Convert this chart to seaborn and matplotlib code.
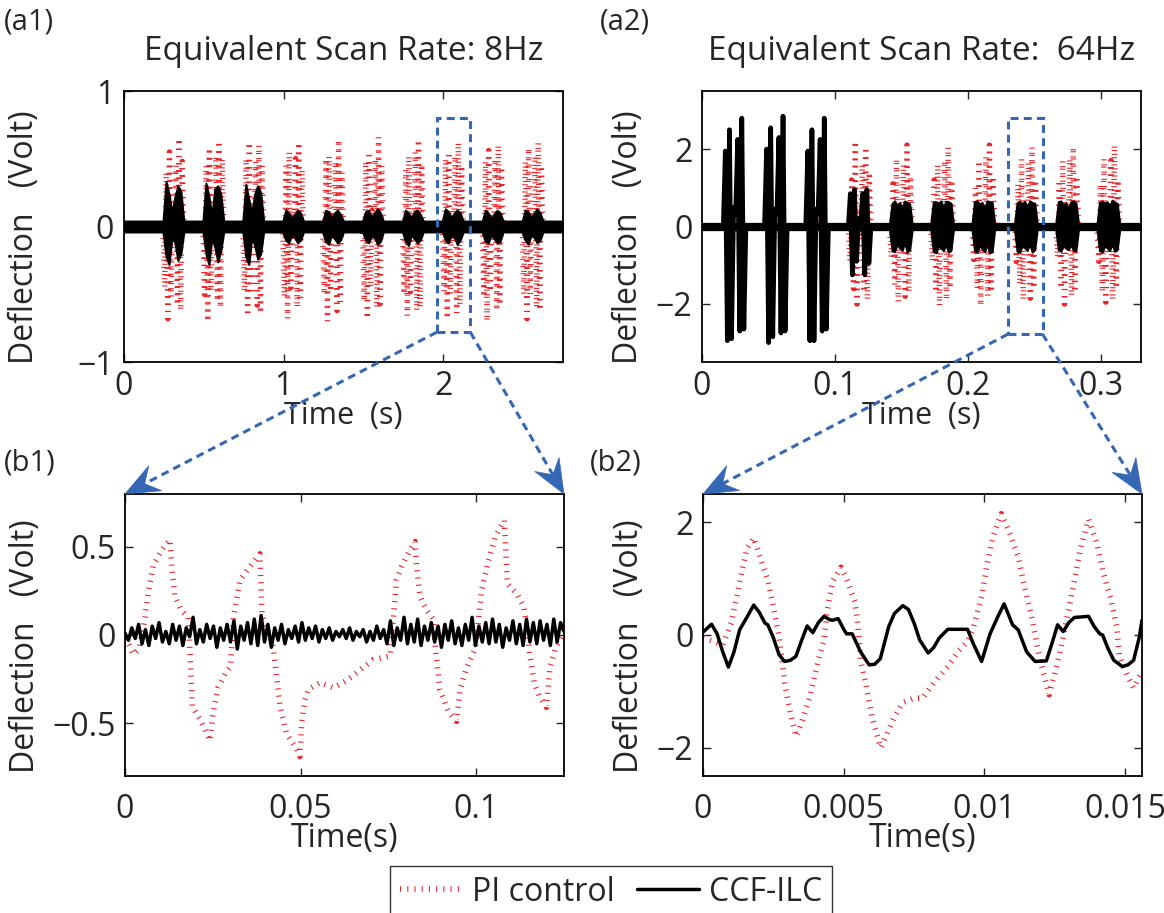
import numpy as np
import matplotlib
matplotlib.use('Agg')
import matplotlib.pyplot as plt
import seaborn as sns
from matplotlib.patches import Rectangle, Polygon
from matplotlib.lines import Line2D
from matplotlib.ticker import FuncFormatter

# ---------------- data ----------------
# (a1) 8 Hz: burst start times (s), burst length
a1_starts = [0.245, 0.495, 0.745, 0.995, 1.245, 1.495, 1.745, 1.995, 2.245, 2.495]
a1_dur = 0.13
# PI control: alternating extremes inside each burst
a1_pi = [
    [0.0, -0.45, 0.40, -0.68, 0.55, -0.52, 0.10, -0.08, 0.45, -0.58, 0.65, -0.62, 0.48, 0.0],
    [0.0, -0.50, 0.45, -0.70, 0.58, -0.48, 0.12, -0.10, 0.52, -0.55, 0.63, -0.60, 0.50, 0.0],
    [0.0, -0.48, 0.50, -0.66, 0.62, -0.50, 0.10, -0.12, 0.48, -0.58, 0.60, -0.64, 0.45, 0.0],
    [0.0, -0.52, 0.45, -0.68, 0.55, -0.45, 0.12, -0.10, 0.50, -0.60, 0.62, -0.55, 0.42, 0.0],
    [0.0, -0.50, 0.50, -0.70, 0.52, -0.48, 0.08, -0.10, 0.48, -0.62, 0.64, -0.58, 0.40, 0.0],
    [0.0, -0.55, 0.48, -0.68, 0.55, -0.45, 0.12, -0.08, 0.50, -0.60, 0.66, -0.57, 0.45, 0.0],
    [0.0, -0.50, 0.42, -0.66, 0.52, -0.48, 0.10, -0.10, 0.55, -0.62, 0.64, -0.60, 0.46, 0.0],
    [0.0, -0.48, 0.50, -0.68, 0.55, -0.50, 0.12, -0.12, 0.52, -0.64, 0.62, -0.58, 0.45, 0.0],
    [0.0, -0.52, 0.48, -0.70, 0.56, -0.48, 0.10, -0.10, 0.50, -0.62, 0.60, -0.58, 0.44, 0.0],
    [0.0, -0.50, 0.48, -0.68, 0.58, -0.50, 0.12, -0.10, 0.52, -0.60, 0.62, -0.62, 0.45, 0.0],
]
# CCF-ILC: upper / lower envelope of the dense trace in each burst
a1_ilc_hi = [
    [0.04, 0.33, 0.24, 0.10, 0.22, 0.30, 0.26, 0.04],
    [0.04, 0.32, 0.22, 0.08, 0.28, 0.30, 0.24, 0.04],
    [0.04, 0.31, 0.20, 0.10, 0.24, 0.30, 0.25, 0.04],
    [0.04, 0.12, 0.10, 0.06, 0.09, 0.12, 0.10, 0.04],
    [0.04, 0.12, 0.11, 0.06, 0.10, 0.12, 0.09, 0.04],
    [0.04, 0.11, 0.12, 0.07, 0.10, 0.13, 0.10, 0.04],
    [0.04, 0.12, 0.10, 0.06, 0.11, 0.12, 0.09, 0.04],
    [0.04, 0.13, 0.11, 0.06, 0.10, 0.12, 0.10, 0.04],
    [0.04, 0.12, 0.10, 0.06, 0.09, 0.12, 0.10, 0.04],
    [0.04, 0.12, 0.11, 0.06, 0.10, 0.13, 0.10, 0.04],
]
a1_ilc_lo = [
    [-0.04, -0.22, -0.28, -0.08, -0.12, -0.25, -0.20, -0.04],
    [-0.04, -0.20, -0.28, -0.08, -0.15, -0.26, -0.18, -0.04],
    [-0.04, -0.22, -0.28, -0.08, -0.14, -0.24, -0.20, -0.04],
    [-0.04, -0.10, -0.12, -0.06, -0.08, -0.12, -0.10, -0.04],
    [-0.04, -0.11, -0.13, -0.06, -0.09, -0.12, -0.10, -0.04],
    [-0.04, -0.10, -0.12, -0.07, -0.08, -0.13, -0.11, -0.04],
    [-0.04, -0.11, -0.14, -0.06, -0.09, -0.12, -0.10, -0.04],
    [-0.04, -0.10, -0.12, -0.06, -0.08, -0.13, -0.10, -0.04],
    [-0.04, -0.11, -0.12, -0.06, -0.09, -0.12, -0.11, -0.04],
    [-0.04, -0.10, -0.13, -0.06, -0.08, -0.12, -0.10, -0.04],
]
a1_box = [1.96, 2.17, -0.78, 0.80]

# (a2) 64 Hz
a2_starts = [0.016, 0.047, 0.078, 0.110, 0.141, 0.172, 0.203, 0.235, 0.266, 0.297]
a2_dur = 0.017
a2_pi = [
    [0.0, 0.30, -0.40, 0.40, -0.30, 0.0],
    [0.0, 0.30, -0.40, 0.40, -0.30, 0.0],
    [0.0, 0.30, -0.40, 0.40, -0.30, 0.0],
    [0.0, -0.90, 1.20, -1.60, 2.20, -2.00, 0.40, -0.30, 1.60, -1.70, 2.05, -1.90, 1.40, 0.0],
    [0.0, -0.80, 1.10, -1.50, 1.75, -1.95, 0.40, -0.40, 1.60, -1.80, 2.10, -1.70, 1.30, 0.0],
    [0.0, -0.90, 1.20, -1.70, 1.60, -2.05, 0.30, -0.30, 1.70, -1.90, 2.05, -1.60, 1.20, 0.0],
    [0.0, -0.85, 1.00, -1.60, 1.70, -2.05, 0.40, -0.40, 1.80, -1.80, 2.10, -1.70, 1.30, 0.0],
    [0.0, -0.90, 1.10, -1.50, 1.75, -1.90, 0.30, -0.30, 1.65, -1.85, 2.05, -1.60, 1.20, 0.0],
    [0.0, -0.80, 1.20, -1.60, 1.70, -2.00, 0.40, -0.40, 1.75, -1.80, 2.05, -1.70, 1.30, 0.0],
    [0.0, -0.90, 1.10, -1.70, 1.75, -1.95, 0.30, -0.30, 1.70, -1.90, 2.10, -1.60, 1.20, 0.0],
]
# CCF-ILC spikes in the first four bursts
a2_ilc_spikes = [
    [0.0, 1.95, -2.95, 2.50, -2.90, 0.50, 0.30, 2.25, -2.70, 2.80, -2.65, 0.0],
    [0.0, 2.00, -3.00, 2.55, -2.85, 0.45, 0.30, 2.30, -2.75, 2.85, -2.70, 0.0],
    [0.0, 1.95, -2.95, 2.50, -2.95, 0.45, 0.35, 2.25, -2.70, 2.80, -2.65, 0.0],
    [0.0, 0.85, -1.25, 0.95, -0.90, 0.20, 0.10, 0.85, -1.25, 0.95, -0.95, 0.0],
]
# CCF-ILC envelope of the later bursts (5..10)
a2_ilc_hi = [
    [0.08, 0.60, 0.66, 0.55, 0.62, 0.48, 0.66, 0.62, 0.58, 0.08],
    [0.08, 0.62, 0.64, 0.60, 0.66, 0.50, 0.65, 0.64, 0.60, 0.08],
    [0.08, 0.64, 0.66, 0.58, 0.62, 0.48, 0.66, 0.64, 0.62, 0.08],
    [0.08, 0.62, 0.65, 0.58, 0.65, 0.50, 0.66, 0.62, 0.60, 0.08],
    [0.08, 0.64, 0.66, 0.55, 0.62, 0.46, 0.64, 0.66, 0.60, 0.08],
    [0.08, 0.63, 0.65, 0.60, 0.64, 0.50, 0.68, 0.62, 0.60, 0.08],
]
a2_ilc_lo = [
    [-0.08, -0.62, -0.65, -0.45, -0.55, -0.62, -0.40, -0.66, -0.60, -0.08],
    [-0.08, -0.64, -0.68, -0.50, -0.55, -0.62, -0.45, -0.66, -0.62, -0.08],
    [-0.08, -0.62, -0.66, -0.48, -0.58, -0.65, -0.45, -0.68, -0.64, -0.08],
    [-0.08, -0.64, -0.66, -0.50, -0.55, -0.62, -0.42, -0.66, -0.60, -0.08],
    [-0.08, -0.60, -0.64, -0.48, -0.56, -0.60, -0.45, -0.62, -0.62, -0.08],
    [-0.08, -0.62, -0.66, -0.50, -0.55, -0.62, -0.44, -0.64, -0.60, -0.08],
]
a2_box = [0.230, 0.256, -2.78, 2.80]

# (b1) zoom of (a1)
b1_pi_t = [0.0, 0.0012, 0.0024, 0.0040, 0.0050, 0.0057, 0.0066, 0.0080, 0.0104, 0.0128,
           0.0133, 0.0142, 0.0160, 0.0180, 0.0185, 0.0192, 0.0214, 0.0242, 0.0250, 0.0265,
           0.0285, 0.0300, 0.0309, 0.0327, 0.0356, 0.0384, 0.0390, 0.0400, 0.0422, 0.0442,
           0.0460, 0.0489, 0.0498, 0.0503, 0.0512, 0.0522, 0.0555, 0.0593, 0.0630, 0.0669,
           0.0707, 0.0755, 0.0764, 0.0773, 0.0788, 0.0811, 0.0826, 0.0830, 0.0840, 0.0859,
           0.0878, 0.0885, 0.0897, 0.0920, 0.0944, 0.0954, 0.0974, 0.0997, 0.1005, 0.1015,
           0.1035, 0.1055, 0.1080, 0.1089, 0.1117, 0.1136, 0.1146, 0.1152, 0.1165, 0.1180,
           0.1200, 0.1210, 0.1225, 0.1250]
b1_pi_v = [-0.02, -0.06, -0.11, -0.08, 0.02, 0.10, 0.24, 0.39, 0.48, 0.54,
           0.39, 0.22, 0.14, 0.10, -0.10, -0.41, -0.48, -0.60, -0.45, -0.30,
           -0.22, -0.18, 0.10, 0.31, 0.39, 0.46, 0.12, 0.06, -0.07, -0.41,
           -0.56, -0.65, -0.69, -0.50, -0.37, -0.31, -0.27, -0.30, -0.26, -0.20,
           -0.14, -0.12, 0.09, 0.31, 0.39, 0.48, 0.53, 0.39, 0.22, 0.14,
           0.09, -0.10, -0.31, -0.43, -0.49, -0.31, -0.18, -0.08, 0.05, 0.25,
           0.42, 0.56, 0.65, 0.29, 0.23, 0.16, 0.03, -0.10, -0.27, -0.35,
           -0.41, -0.18, -0.08, 0.02]
b1_ilc_v = [0.01, -0.03, 0.04, -0.02, 0.06, -0.05, 0.03, -0.06, 0.05, -0.02,
            0.07, -0.04, 0.02, -0.05, 0.06, -0.03, 0.05, -0.06, 0.04, -0.01,
            0.10, -0.05, 0.03, -0.04, 0.06, -0.02, 0.05, -0.07, 0.04, -0.03,
            0.06, -0.04, 0.08, -0.08, 0.05, -0.03, 0.07, -0.05, 0.09, -0.06,
            0.11, -0.04, 0.06, -0.07, 0.04, -0.03, 0.06, -0.05, 0.03, -0.02,
            0.05, -0.04, 0.07, -0.03, 0.04, -0.02, 0.05, -0.04, 0.03, -0.02,
            0.04, -0.03, 0.02, -0.01, 0.03, -0.02, 0.04, -0.03, 0.02, -0.01,
            0.03, -0.04, 0.02, -0.03, 0.05, -0.02, 0.03, -0.05, 0.08, -0.06,
            0.04, -0.03, 0.10, -0.05, 0.06, -0.04, 0.09, -0.06, 0.05, -0.03,
            0.07, -0.04, 0.05, -0.07, 0.06, -0.03, 0.08, -0.05, 0.04, -0.06,
            0.06, -0.03, 0.10, -0.06, 0.05, -0.04, 0.07, -0.05, 0.09, -0.04,
            0.06, -0.07, 0.04, -0.03, 0.08, -0.05, 0.06, -0.06, 0.09, -0.04,
            0.07, -0.05, 0.08, -0.03, 0.06, -0.06, 0.09, -0.04, 0.07, 0.02]

# (b2) zoom of (a2)
b2_pi_t = [0.0, 0.0004, 0.0007, 0.0010, 0.0012, 0.0014, 0.00156, 0.0018, 0.0020, 0.0023,
           0.0025, 0.0027, 0.0028, 0.0029, 0.0031, 0.0033, 0.0035, 0.0038, 0.0041, 0.0043,
           0.0044, 0.0046, 0.0049, 0.0051, 0.0054, 0.0055, 0.0056, 0.0058, 0.0060, 0.0062,
           0.0063, 0.0065, 0.0068, 0.0071, 0.0075, 0.0078, 0.0082, 0.0087, 0.0091, 0.0094,
           0.0096, 0.0099, 0.0101, 0.0103, 0.0106, 0.0109, 0.0112, 0.0114, 0.0117, 0.0119,
           0.0121, 0.0123, 0.0125, 0.0127, 0.0129, 0.0132, 0.0134, 0.0137, 0.0140, 0.0142,
           0.0145, 0.0147, 0.0148, 0.0151, 0.0153, 0.0156]
b2_pi_v = [-0.05, -0.12, -0.18, 0.21, 0.68, 1.18, 1.53, 1.72, 1.42, 0.97,
           0.50, -0.03, -0.44, -0.85, -1.38, -1.80, -1.56, -1.09, -0.44, -0.09,
           0.40, 0.95, 1.20, 1.00, 0.59, 0.18, -0.44, -0.91, -1.45, -1.80,
           -2.00, -1.80, -1.45, -1.20, -1.12, -1.12, -0.85, -0.56, -0.27, -0.12,
           0.12, 0.68, 1.27, 1.74, 2.15, 1.80, 1.39, 0.91, 0.27, -0.27,
           -0.68, -1.06, -0.68, -0.27, 0.21, 0.97, 1.50, 2.05, 1.62, 1.15,
           0.62, 0.15, -0.38, -0.74, -0.94, -0.65]
b2_ilc_t = [0.0, 0.0003, 0.0005, 0.0007, 0.0009, 0.0011, 0.0013, 0.0016, 0.0018, 0.0020,
            0.0022, 0.0023, 0.0025, 0.0027, 0.0029, 0.0031, 0.0033, 0.0035, 0.0037, 0.0039,
            0.0041, 0.0043, 0.0045, 0.0046, 0.0048, 0.0050, 0.0051, 0.0053, 0.0056, 0.0059,
            0.0061, 0.0063, 0.0066, 0.0068, 0.0071, 0.0073, 0.0075, 0.0077, 0.0080, 0.0082,
            0.0084, 0.0087, 0.0090, 0.0094, 0.0096, 0.0099, 0.0102, 0.0105, 0.0107, 0.0110,
            0.0112, 0.0115, 0.0118, 0.0122, 0.0124, 0.0126, 0.0128, 0.0130, 0.0132, 0.0137,
            0.0139, 0.0141, 0.0142, 0.0144, 0.0146, 0.0149, 0.0151, 0.0153, 0.0155, 0.0156]
b2_ilc_v = [0.05, 0.19, 0.02, -0.30, -0.57, -0.30, 0.09, 0.35, 0.53, 0.40,
            0.21, 0.18, -0.05, -0.35, -0.47, -0.45, -0.38, -0.10, 0.16, 0.04,
            0.22, 0.33, 0.27, 0.26, 0.29, 0.10, 0.02, 0.02, -0.30, -0.53,
            -0.52, -0.42, 0.15, 0.38, 0.52, 0.45, 0.21, -0.09, -0.32, -0.22,
            -0.05, 0.10, 0.10, 0.10, -0.15, -0.47, 0.02, 0.35, 0.55, 0.18,
            0.09, -0.30, -0.47, -0.46, -0.15, 0.18, 0.06, 0.22, 0.31, 0.33,
            0.15, 0.02, 0.00, -0.25, -0.45, -0.56, -0.53, -0.45, -0.05, 0.26]

# ---------------- helpers ----------------
def stack_bursts(starts, dur, bursts, xmax):
    t, v = [0.0], [0.0]
    for s, vals in zip(starts, bursts):
        t.extend(np.linspace(s, s + dur, len(vals)))
        v.extend(vals)
    t.append(xmax)
    v.append(0.0)
    return np.array(t), np.array(v)


def stack_envelope(starts, dur, his, los, base, xmax):
    t, hi, lo = [0.0], [base], [-base]
    for s, h, l in zip(starts, his, los):
        t.extend(np.linspace(s, s + dur, len(h)))
        hi.extend(h)
        lo.extend(l)
    t.append(xmax)
    hi.append(base)
    lo.append(-base)
    return np.array(t), np.array(hi), np.array(lo)


def fmt(x, pos):
    return ('%g' % x).replace('-', '\u2212')


# ---------------- style ----------------
sns.set_style('ticks')
plt.rcParams['font.family'] = ['Open Sans', 'DejaVu Sans']
plt.rcParams['axes.linewidth'] = 1.3

RED = '#e8262a'
BLUE = '#3467b4'
FS = 23
pi_kw = dict(color=RED, lw=4.0, linestyle=(0, (0.2, 1.1)))
ilc_kw = dict(color='black', lw=2.5)

fig = plt.figure(figsize=(11.64, 9.13), dpi=100)
ax_a1 = fig.add_axes([0.1065, 0.6035, 0.3771, 0.2968])
ax_a2 = fig.add_axes([0.6031, 0.6035, 0.3771, 0.2968])
ax_b1 = fig.add_axes([0.1074, 0.1501, 0.3771, 0.3089])
ax_b2 = fig.add_axes([0.6040, 0.1501, 0.3771, 0.3089])

# (a1)
t, v = stack_bursts(a1_starts, a1_dur, a1_pi, 2.75)
sns.lineplot(x=t, y=v, ax=ax_a1, sort=False, estimator=None, **pi_kw)
t, hi, lo = stack_envelope(a1_starts, a1_dur, a1_ilc_hi, a1_ilc_lo, 0.04, 2.75)
ax_a1.fill_between(t, lo, hi, color='black', lw=1.5, zorder=3)

# (a2)
t, v = stack_bursts(a2_starts, a2_dur, a2_pi, 0.33)
sns.lineplot(x=t, y=v, ax=ax_a2, sort=False, estimator=None, **pi_kw)
t, hi, lo = stack_envelope(a2_starts[4:], a2_dur, a2_ilc_hi, a2_ilc_lo, 0.08, 0.33)
ax_a2.fill_between(t, lo, hi, color='black', lw=1.5, zorder=3)
t, v = stack_bursts(a2_starts[:4], a2_dur, a2_ilc_spikes, 0.33)
sns.lineplot(x=t, y=v, ax=ax_a2, sort=False, estimator=None, color='black', lw=3.4, zorder=4)

# (b1)
sns.lineplot(x=b1_pi_t, y=b1_pi_v, ax=ax_b1, sort=False, estimator=None, **pi_kw)
b1_ilc_t = np.linspace(0, 0.125, len(b1_ilc_v))
sns.lineplot(x=b1_ilc_t, y=b1_ilc_v, ax=ax_b1, sort=False, estimator=None, zorder=3, **ilc_kw)

# (b2)
sns.lineplot(x=b2_pi_t, y=b2_pi_v, ax=ax_b2, sort=False, estimator=None, **pi_kw)
sns.lineplot(x=b2_ilc_t, y=b2_ilc_v, ax=ax_b2, sort=False, estimator=None, zorder=3, **ilc_kw)

limits = {
    ax_a1: ((0, 2.75), (-1, 1), [0, 1, 2], [-1, 0, 1], 'Time  (s)', 6, 22),
    ax_a2: ((0, 0.33), (-3.5, 3.5), [0, 0.1, 0.2, 0.3], [-2, 0, 2], 'Time  (s)', 6, 22),
    ax_b1: ((0, 0.125), (-0.8, 0.8), [0, 0.05, 0.1], [-0.5, 0, 0.5], 'Time(s)', 12, FS),
    ax_b2: ((0, 0.0156), (-2.5, 2.5), [0, 0.005, 0.01, 0.015], [-2, 0, 2], 'Time(s)', 12, FS),
}
for ax, (xl, yl, xt, yt, xlab, xpad, xfs) in limits.items():
    ax.set_xlim(*xl)
    ax.set_ylim(*yl)
    ax.set_xticks(xt)
    ax.set_yticks(yt)
    ax.xaxis.set_major_formatter(FuncFormatter(fmt))
    ax.yaxis.set_major_formatter(FuncFormatter(fmt))
    ax.tick_params(direction='in', top=True, right=True, length=6, width=1.0,
                   labelsize=FS, pad=7)
    ax.tick_params(axis='x', pad=xpad)
    for sp in ax.spines.values():
        sp.set_visible(True)
        sp.set_color('black')
    ax.set_xlabel(xlab, fontsize=xfs, va='center')
    ax.set_ylabel('Deflection   (Volt)', fontsize=FS)

ax_a1.yaxis.set_label_coords(-0.19, 0.46)
ax_b1.yaxis.set_label_coords(-0.19, 0.46)
ax_a2.yaxis.set_label_coords(-0.13, 0.46)
ax_b2.yaxis.set_label_coords(-0.13, 0.46)
ax_a1.xaxis.set_label_coords(0.5, -0.2)
ax_a2.xaxis.set_label_coords(0.5, -0.2)
ax_b1.xaxis.set_label_coords(0.5, -0.22)
ax_b2.xaxis.set_label_coords(0.5, -0.22)

ax_a1.set_title('Equivalent Scan Rate: 8Hz', fontsize=24, pad=22)
ax_a2.set_title('Equivalent Scan Rate:  64Hz', fontsize=24, pad=22)

for txt, x, y in [('(a1)', 4, 22), ('(a2)', 600, 22), ('(b1)', 4, 463), ('(b2)', 590, 463)]:
    fig.text(x / 1164, 1 - y / 913, txt, fontsize=21, ha='left', va='center')


# zoom boxes and connecting arrows (drawn in pixel space of the figure)
def link(ax_top, xy_data, ax_bot, xy_axes):
    a = ax_top.transData.transform(xy_data)
    b = ax_bot.transAxes.transform(xy_axes)
    u = (b - a) / np.hypot(*(b - a))
    n = np.array([-u[1], u[0]])
    head_len, head_half = 34.0, 14.0
    back = b - u * head_len
    notch = b - u * head_len * 0.65
    inv = fig.transFigure.inverted()
    p0, p1 = inv.transform(a), inv.transform(notch)
    fig.add_artist(Line2D([p0[0], p1[0]], [p0[1], p1[1]], transform=fig.transFigure,
                          color=BLUE, lw=2.2, ls=(0, (2.6, 1.7))))
    head = inv.transform(np.array([b, back + n * head_half, notch, back - n * head_half]))
    fig.add_artist(Polygon(head, closed=True, transform=fig.transFigure,
                           fc=BLUE, ec=BLUE, lw=0.5))


for ax_top, ax_bot, (x0, x1, y0, y1) in [(ax_a1, ax_b1, a1_box), (ax_a2, ax_b2, a2_box)]:
    ax_top.add_patch(Rectangle((x0, y0), x1 - x0, y1 - y0, fill=False, ec=BLUE, lw=2.2,
                               ls=(0, (2.6, 1.7)), zorder=5))
    link(ax_top, (x0, y0), ax_bot, (0, 1))
    link(ax_top, (x1, y0), ax_bot, (1, 1))

handles = [Line2D([], [], **pi_kw), Line2D([], [], color='black', lw=2.5)]
leg = fig.legend(handles, ['PI control', 'CCF-ILC'], loc='upper center', ncol=2,
                 bbox_to_anchor=(0.525, 1 - 866 / 913), fontsize=FS, frameon=True,
                 fancybox=False, edgecolor='black', handlelength=1.95, handletextpad=0.3,
                 columnspacing=0.7, borderpad=0.3, borderaxespad=0)
leg.get_frame().set_linewidth(1.0)

fig.savefig('out.png', dpi=100)
